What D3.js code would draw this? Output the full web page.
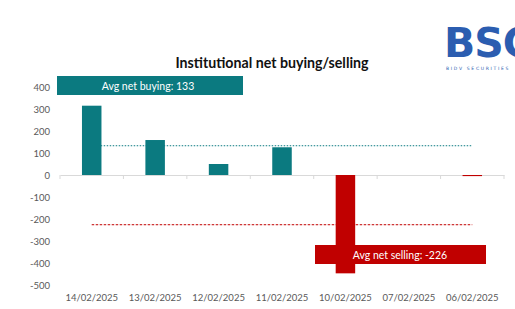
<!DOCTYPE html>
<html><head><meta charset="utf-8">
<script src="https://cdn.jsdelivr.net/npm/d3@7"></script>
<style>body{margin:0;background:#fff}svg{display:block}</style>
</head><body>
<svg id="c" width="515" height="309"></svg>
<script>
const categories = ["14/02/2025","13/02/2025","12/02/2025","11/02/2025","10/02/2025","07/02/2025","06/02/2025"];
const values = [315, 159, 50, 126, -447, 0, -5];
const yTicks = [400,300,200,100,0,-100,-200,-300,-400,-500];
const avgBuy = 133, avgSell = -226;
const title = "Institutional net buying/selling";
const buyLabel = "Avg net buying: 133";
const sellLabel = "Avg net selling: -226";

const teal = "#0b7a80", red = "#c00000";
const svg = d3.select("#c");
const font = "Lato, 'Open Sans', sans-serif";
const x = d3.scaleBand().domain(categories).range([60, 504]);
const y = d3.scaleLinear().domain([-500, 400]).range([285, 87]);

// title
svg.append("text").attr("x", 272).attr("y", 68).attr("text-anchor","middle")
  .attr("font-family", font).attr("font-weight","bold").attr("font-size",14.2).attr("fill","#111").text(title);

// logo
svg.append("text").attr("x", 444).attr("y", 57).attr("font-family","'DejaVu Sans', Arial, sans-serif")
  .attr("font-weight","bold").attr("font-size",41).attr("fill","#2b5db0").attr("letter-spacing",-1).text("BSC");
svg.append("text").attr("x", 446).attr("y", 70).attr("font-family","'DejaVu Sans', sans-serif")
  .attr("font-size",4.5).attr("fill","#2b5db0").attr("letter-spacing",1.7).text("BIDV SECURITIES");

// y axis labels
svg.append("g").selectAll("text").data(yTicks).join("text")
  .attr("x", 50).attr("y", d => y(d) + 3.5).attr("text-anchor","end")
  .attr("font-family", font).attr("font-size",9.5).attr("fill","#595959").text(d => d);

// zero axis with ticks
const ax = svg.append("g").attr("transform", `translate(0,${y(0)})`)
  .call(d3.axisBottom(x).tickSize(0).tickFormat(""));
ax.select(".domain").attr("stroke","#d9d9d9");
const bounds = categories.map(c => x(c)).concat([x.range()[1]]);
svg.append("g").selectAll("line").data(bounds).join("line")
  .attr("x1", d=>d).attr("x2", d=>d).attr("y1", y(0)).attr("y2", y(0)+4).attr("stroke","#d9d9d9");

// avg lines
const x0 = x(categories[0]) + x.bandwidth()/2, x1 = x(categories[categories.length-1]) + x.bandwidth()/2;
svg.append("line").attr("x1", x0).attr("x2", x1).attr("y1", y(avgBuy)).attr("y2", y(avgBuy))
  .attr("stroke", teal).attr("stroke-width",1).attr("stroke-dasharray","1.5,1.5");
svg.append("line").attr("x1", x0).attr("x2", x1).attr("y1", y(avgSell)).attr("y2", y(avgSell))
  .attr("stroke", red).attr("stroke-width",1).attr("stroke-dasharray","2.5,1.5");

// bars
const bw = 19.5;
svg.append("g").selectAll("rect").data(values.map((v,i)=>({c:categories[i], v}))).join("rect")
  .attr("x", d => x(d.c) + x.bandwidth()/2 - bw/2).attr("width", bw)
  .attr("y", d => y(Math.max(0, d.v))).attr("height", d => Math.abs(y(d.v) - y(0)))
  .attr("fill", d => d.v >= 0 ? teal : red);

// label boxes
svg.append("rect").attr("x",57).attr("y",76).attr("width",186).attr("height",19).attr("fill",teal);
svg.append("text").attr("x",148).attr("y",89.5).attr("text-anchor","middle").attr("font-family",font)
  .attr("font-size",10.5).attr("fill","#fff").text(buyLabel);
svg.append("rect").attr("x",315).attr("y",245).attr("width",171).attr("height",19).attr("fill",red);
svg.append("text").attr("x",400).attr("y",258.5).attr("text-anchor","middle").attr("font-family",font)
  .attr("font-size",10.5).attr("fill","#fff").text(sellLabel);

// x labels
svg.append("g").selectAll("text").data(categories).join("text")
  .attr("x", d => x(d) + x.bandwidth()/2).attr("y", 301).attr("text-anchor","middle")
  .attr("font-family", font).attr("font-size",9.5).attr("fill","#595959").text(d => d);
</script>
</body></html>
